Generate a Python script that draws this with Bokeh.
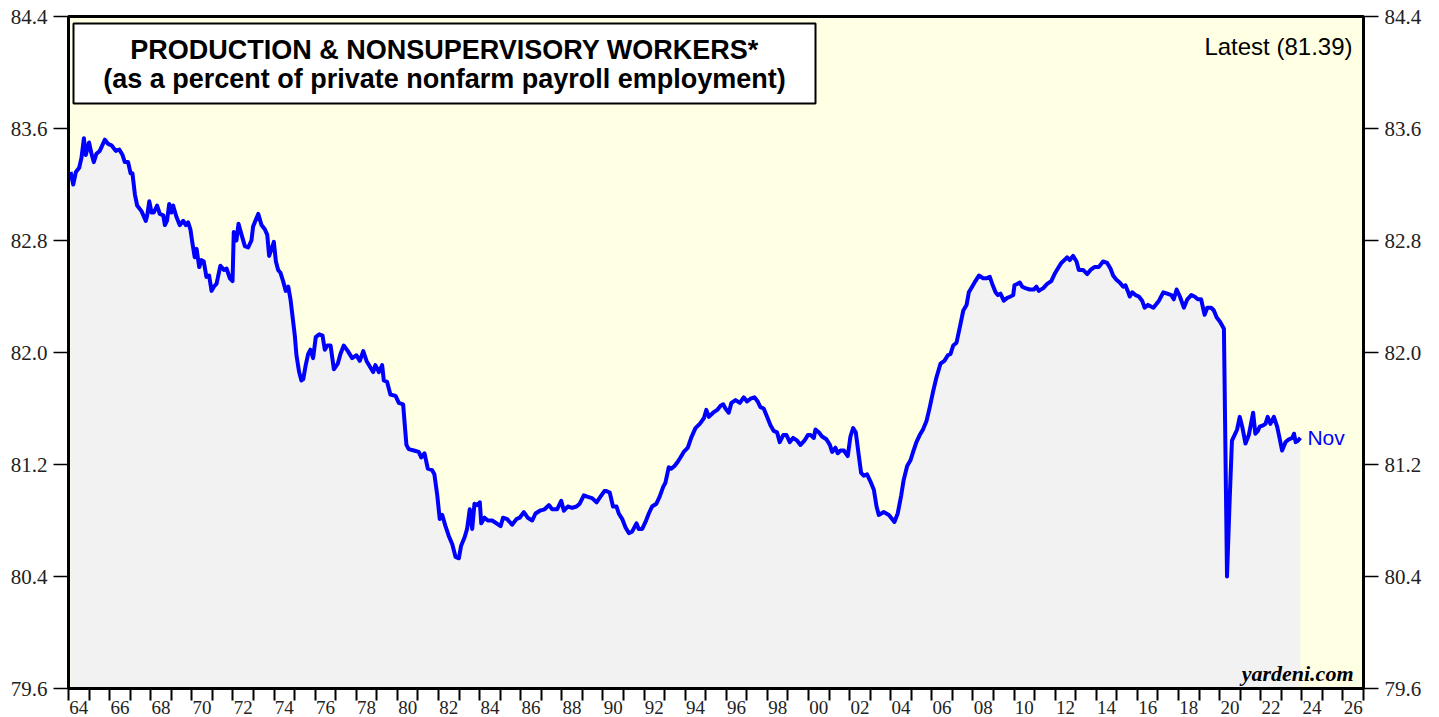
from bokeh.plotting import figure
from bokeh.models import (Range1d, LinearAxis, FixedTicker, BoxAnnotation, Label,
                          NumeralTickFormatter)
from bokeh.core.properties import value
from bokeh.embed import file_html
from bokeh.resources import INLINE

# ---------------- data ----------------
dates = [
    1964.10, 1964.23, 1964.36, 1964.52, 1964.63, 1964.75, 1964.84, 1965.00, 1965.12, 1965.23,
    1965.36, 1965.52, 1965.77, 1965.93, 1966.09, 1966.30, 1966.47, 1966.63, 1966.74, 1966.90,
    1967.02, 1967.11, 1967.23, 1967.34, 1967.55, 1967.76, 1967.83, 1967.93, 1968.04, 1968.15,
    1968.31, 1968.44, 1968.61, 1968.69, 1968.79, 1968.90, 1969.01, 1969.09, 1969.25, 1969.41,
    1969.58, 1969.71, 1969.82, 1969.93, 1970.03, 1970.14, 1970.23, 1970.36, 1970.47, 1970.58,
    1970.71, 1970.84, 1970.96, 1971.07, 1971.20, 1971.39, 1971.56, 1971.69, 1971.85, 1971.98,
    1972.04, 1972.17, 1972.27, 1972.42, 1972.58, 1972.74, 1972.90, 1972.98, 1973.23, 1973.39,
    1973.55, 1973.67, 1973.76, 1973.88, 1973.99, 1974.09, 1974.20, 1974.31, 1974.44, 1974.57,
    1974.69, 1974.80, 1974.93, 1975.01, 1975.09, 1975.22, 1975.33, 1975.42, 1975.54, 1975.66,
    1975.77, 1975.90, 1976.03, 1976.20, 1976.36, 1976.47, 1976.59, 1976.75, 1976.91,
    1977.10, 1977.23, 1977.39, 1977.59, 1977.80, 1978.01, 1978.17, 1978.34, 1978.50, 1978.66,
    1978.82, 1978.93, 1979.10, 1979.26, 1979.34, 1979.50, 1979.66, 1979.91, 1980.07, 1980.28,
    1980.35, 1980.44, 1980.55, 1980.80, 1981.04, 1981.16, 1981.32, 1981.48, 1981.69, 1981.80,
    1981.94, 1982.06, 1982.18, 1982.34, 1982.50, 1982.67, 1982.83, 1982.99, 1983.10, 1983.27,
    1983.39, 1983.52, 1983.64, 1983.75, 1983.88, 1984.01, 1984.08, 1984.24, 1984.40, 1984.61,
    1984.82, 1985.02, 1985.14, 1985.34, 1985.58, 1985.79, 1985.95, 1986.15, 1986.34, 1986.56,
    1986.72, 1986.93, 1987.16, 1987.37, 1987.53, 1987.77, 1987.97, 1988.10, 1988.29, 1988.50,
    1988.71, 1988.87, 1989.07, 1989.23, 1989.47, 1989.69, 1989.88, 1990.07,
    1990.17, 1990.33, 1990.49, 1990.66, 1990.77, 1990.94, 1991.10, 1991.26, 1991.42, 1991.63,
    1991.74, 1991.91, 1992.07, 1992.23, 1992.39, 1992.60, 1992.76, 1992.93, 1993.04, 1993.20,
    1993.32, 1993.48, 1993.64, 1993.77, 1993.93, 1994.13, 1994.29, 1994.50, 1994.71, 1994.91,
    1995.03, 1995.15, 1995.36, 1995.56, 1995.72, 1995.85, 1995.96, 1996.12, 1996.25, 1996.45,
    1996.66, 1996.85, 1997.01, 1997.18, 1997.37, 1997.53, 1997.66, 1997.82, 1997.99, 1998.15,
    1998.31, 1998.47, 1998.60, 1998.77, 1998.93, 1999.09, 1999.25, 1999.45, 1999.61, 1999.80,
    1999.97, 2000.10, 2000.26, 2000.34, 2000.50, 2000.66, 2000.87, 2001.04, 2001.15, 2001.31,
    2001.42, 2001.56, 2001.72, 2001.91, 2002.04, 2002.17, 2002.30, 2002.45, 2002.56, 2002.69,
    2002.85, 2003.01,
    2003.18, 2003.31, 2003.42, 2003.66, 2003.91, 2004.02, 2004.18, 2004.34, 2004.51, 2004.63,
    2004.80, 2004.96, 2005.09, 2005.25, 2005.41, 2005.57, 2005.74, 2005.90, 2006.06, 2006.22,
    2006.42, 2006.61, 2006.78, 2006.91, 2007.04, 2007.20, 2007.36, 2007.53, 2007.69, 2007.80,
    2007.96, 2008.12, 2008.29, 2008.50, 2008.66, 2008.82, 2008.94, 2009.10, 2009.21, 2009.34,
    2009.50, 2009.67, 2009.83, 2009.96, 2010.02, 2010.15, 2010.28, 2010.40, 2010.55, 2010.76,
    2010.96, 2011.09, 2011.20, 2011.42, 2011.61, 2011.81, 2011.97, 2012.13, 2012.30, 2012.45,
    2012.58, 2012.71, 2012.87, 2013.04, 2013.15, 2013.36, 2013.56, 2013.72, 2013.91, 2014.12,
    2014.33, 2014.53, 2014.69, 2014.82, 2014.98, 2015.14, 2015.31, 2015.42, 2015.53, 2015.63,
    2015.75, 2015.91, 2016.07, 2016.23, 2016.35,
    2016.52, 2016.78, 2017.05, 2017.26, 2017.45, 2017.65, 2017.77, 2017.91, 2018.07, 2018.26,
    2018.43, 2018.62, 2018.78, 2018.94, 2019.10, 2019.27, 2019.40, 2019.59, 2019.72, 2019.86,
    2020.02, 2020.21, 2020.36, 2020.49, 2020.60, 2020.76, 2020.85, 2020.98, 2021.10, 2021.26,
    2021.42, 2021.50, 2021.63, 2021.74, 2021.86, 2021.95, 2022.12, 2022.23, 2022.34, 2022.47,
    2022.64, 2022.80, 2022.93, 2023.04, 2023.21, 2023.37, 2023.54, 2023.62, 2023.70, 2023.81,
    2023.93,
]
pct = [
    83.29, 83.20, 83.29, 83.32, 83.39, 83.53, 83.41, 83.50, 83.42, 83.36,
    83.42, 83.44, 83.52, 83.49, 83.48, 83.44, 83.45, 83.41, 83.36, 83.36,
    83.28, 83.28, 83.13, 83.05, 83.01, 82.94, 82.98, 83.08, 83.00, 83.00,
    83.05, 82.99, 82.98, 82.91, 82.94, 83.06, 83.00, 83.05, 82.97, 82.91,
    82.94, 82.91, 82.93, 82.88, 82.78, 82.68, 82.74, 82.61, 82.66, 82.65,
    82.54, 82.55, 82.44, 82.47, 82.49, 82.62, 82.59, 82.60, 82.53, 82.51,
    82.86, 82.80, 82.92, 82.84, 82.76, 82.75, 82.80, 82.90, 82.99, 82.91,
    82.88, 82.84, 82.69, 82.74, 82.79, 82.65, 82.59, 82.57, 82.51, 82.44,
    82.47, 82.38, 82.22, 82.12, 81.98, 81.86, 81.80, 81.81, 81.91, 81.99,
    82.02, 81.96, 82.11, 82.13, 82.12, 82.02, 82.05, 82.05, 81.88,
    81.92, 81.99, 82.05, 82.01, 81.96, 81.98, 81.94, 82.01, 81.94, 81.90,
    81.86, 81.91, 81.86, 81.91, 81.80, 81.79, 81.70, 81.69, 81.64, 81.63,
    81.50, 81.34, 81.31, 81.30, 81.29, 81.25, 81.28, 81.17, 81.16, 81.13,
    80.98, 80.81, 80.84, 80.76, 80.69, 80.63, 80.54, 80.53, 80.62, 80.68,
    80.74, 80.88, 80.74, 80.92, 80.91, 80.93, 80.78, 80.82, 80.80, 80.80,
    80.78, 80.76, 80.82, 80.81, 80.77, 80.81, 80.82, 80.86, 80.82, 80.80,
    80.85, 80.87, 80.88, 80.91, 80.88, 80.88, 80.94, 80.87, 80.90, 80.89,
    80.90, 80.92, 80.98, 80.97, 80.96, 80.93, 80.97, 81.01,
    81.01, 81.00, 80.90, 80.90, 80.85, 80.81, 80.75, 80.71, 80.72, 80.78,
    80.74, 80.74, 80.79, 80.85, 80.90, 80.92, 80.97, 81.04, 81.07, 81.18,
    81.17, 81.19, 81.22, 81.25, 81.29, 81.32, 81.39, 81.46, 81.49, 81.53,
    81.59, 81.54, 81.57, 81.59, 81.62, 81.63, 81.60, 81.57, 81.64, 81.66,
    81.64, 81.68, 81.65, 81.67, 81.68, 81.65, 81.61, 81.60, 81.54, 81.48,
    81.44, 81.43, 81.36, 81.41, 81.41, 81.36, 81.39, 81.37, 81.34, 81.37,
    81.41, 81.41, 81.39, 81.45, 81.43, 81.40, 81.38, 81.34, 81.29, 81.32,
    81.28, 81.30, 81.30, 81.26, 81.40, 81.46, 81.43, 81.26, 81.14, 81.12,
    81.13, 81.08,
    81.02, 80.90, 80.84, 80.86, 80.84, 80.82, 80.79, 80.85, 80.98, 81.09,
    81.19, 81.23, 81.29, 81.36, 81.41, 81.45, 81.51, 81.61, 81.72, 81.82,
    81.92, 81.94, 81.98, 81.99, 82.05, 82.07, 82.18, 82.30, 82.34, 82.43,
    82.47, 82.51, 82.55, 82.53, 82.53, 82.54, 82.49, 82.43, 82.41, 82.42,
    82.37, 82.39, 82.40, 82.41, 82.48, 82.49, 82.50, 82.47, 82.46, 82.45,
    82.45, 82.47, 82.44, 82.46, 82.49, 82.51, 82.56, 82.60, 82.64, 82.66,
    82.68, 82.66, 82.69, 82.65, 82.59, 82.59, 82.56, 82.59, 82.61, 82.61,
    82.65, 82.64, 82.60, 82.55, 82.52, 82.50, 82.47, 82.48, 82.44, 82.40,
    82.43, 82.41, 82.40, 82.37, 82.32,
    82.34, 82.32, 82.37, 82.43, 82.42, 82.41, 82.38, 82.45, 82.40, 82.32,
    82.38, 82.41, 82.40, 82.38, 82.38, 82.27, 82.32, 82.32, 82.30, 82.25,
    82.22, 82.17, 80.40, 80.95, 81.37, 81.42, 81.45, 81.54, 81.47, 81.35,
    81.41, 81.47, 81.57, 81.42, 81.44, 81.47, 81.48, 81.49, 81.54, 81.49,
    81.54, 81.47, 81.38, 81.30, 81.36, 81.38, 81.39, 81.42, 81.36, 81.37,
    81.39,
]
latest_value = 81.39
latest_month = "Nov"

y_ticks = [79.6, 80.4, 81.2, 82.0, 82.8, 83.6, 84.4]
year_ticks = list(range(1964, 2028))
label_years = list(range(1964, 2027, 2))
label_texts = [f"{yr % 100:02d}" for yr in label_years]

title_line1 = "PRODUCTION & NONSUPERVISORY WORKERS*"
title_line2 = "(as a percent of private nonfarm payroll employment)"
credit = "yardeni.com"

# ---------------- layout ----------------
X_LO, X_HI = 1964, 2027
Y_LO, Y_HI = 79.6, 84.4
W, H = 1436, 717
LEFT, RIGHT, TOP, BOTTOM = 68, 73, 16, 29
FW = W - LEFT - RIGHT
FH = H - TOP - BOTTOM
PX_X = FW / (X_HI - X_LO)
PX_Y = FH / (Y_HI - Y_LO)


def dx(px):
    return px / PX_X


def dy(px):
    return px / PX_Y


p = figure(width=W, height=H,
           x_range=Range1d(X_LO, X_HI), y_range=Range1d(Y_LO, Y_HI),
           output_backend="svg", toolbar_location=None,
           x_axis_type=None, y_axis_type=None,
           min_border_left=LEFT, min_border_right=RIGHT,
           min_border_top=TOP, min_border_bottom=BOTTOM)
p.background_fill_color = "#FFFFE3"
p.border_fill_color = "white"
p.outline_line_color = "black"
p.outline_line_width = 3

# x axis: a tick at every year boundary (minor), labels centred in even years
label_pos = [yr + 0.5 for yr in label_years]
xaxis = LinearAxis(ticker=FixedTicker(ticks=label_pos, minor_ticks=year_ticks))
xaxis.major_label_overrides = {pos: txt for pos, txt in zip(label_pos, label_texts)}
xaxis.major_tick_line_color = None
xaxis.major_tick_out = 9
xaxis.major_tick_in = 0
xaxis.major_label_standoff = 0
xaxis.major_label_text_font = "Liberation Serif"
xaxis.major_label_text_font_size = "19px"
xaxis.major_label_text_color = "#222222"
xaxis.minor_tick_out = 12
xaxis.minor_tick_in = 0
xaxis.minor_tick_line_width = 2
xaxis.minor_tick_line_color = "black"
xaxis.axis_line_width = 3
xaxis.axis_line_color = "black"
p.add_layout(xaxis, "below")

for side in ("left", "right"):
    ax = LinearAxis(ticker=FixedTicker(ticks=y_ticks),
                    formatter=NumeralTickFormatter(format="0.0"))
    ax.major_tick_out = 15
    ax.major_tick_in = 0
    ax.major_tick_line_width = 1.5
    ax.major_tick_line_color = "black"
    ax.minor_tick_line_color = None
    ax.axis_line_width = 3
    ax.axis_line_color = "black"
    ax.major_label_text_font = "Liberation Serif"
    ax.major_label_text_font_size = "21px"
    ax.major_label_text_color = "#222222"
    ax.major_label_standoff = 6
    p.add_layout(ax, side)

# area + line
p.varea(x=dates, y1=Y_LO, y2=pct, fill_color="#F2F2F2")
p.line(dates, pct, line_color="#0000FF", line_width=4, line_join="round")
p.text(x=[dates[-1]], y=[pct[-1]], text=[latest_month], x_offset=7,
       text_align="left", text_baseline="middle", text_color="#0000FF",
       text_font=value("Liberation Sans"), text_font_size="21px")

# title box
p.add_layout(BoxAnnotation(left=X_LO + dx(5), right=X_LO + dx(747),
                           top=Y_HI - dy(7), bottom=Y_HI - dy(87),
                           fill_color="white", fill_alpha=1.0,
                           line_color="black", line_alpha=1.0, line_width=2))
p.add_layout(Label(x=X_LO + dx(376), y=Y_HI - dy(33), text=title_line1,
                   text_align="center", text_baseline="middle",
                   text_font="Liberation Sans", text_font_style="bold",
                   text_font_size="27px", text_color="black"))
p.add_layout(Label(x=X_LO + dx(376), y=Y_HI - dy(62), text=title_line2,
                   text_align="center", text_baseline="middle",
                   text_font="Liberation Sans", text_font_style="bold",
                   text_font_size="27px", text_color="black"))

p.add_layout(Label(x=X_HI - dx(11), y=Y_HI - dy(30),
                   text=f"Latest ({latest_value:.2f})",
                   text_align="right", text_baseline="middle",
                   text_font="Liberation Sans", text_font_size="24px",
                   text_color="black"))

p.add_layout(Label(x=X_HI - dx(10), y=Y_LO + dy(15), text=credit,
                   text_align="right", text_baseline="middle",
                   text_font="Liberation Serif", text_font_style="bold italic",
                   text_font_size="22px", text_color="black"))

open("out.html", "w").write(file_html(p, INLINE))
